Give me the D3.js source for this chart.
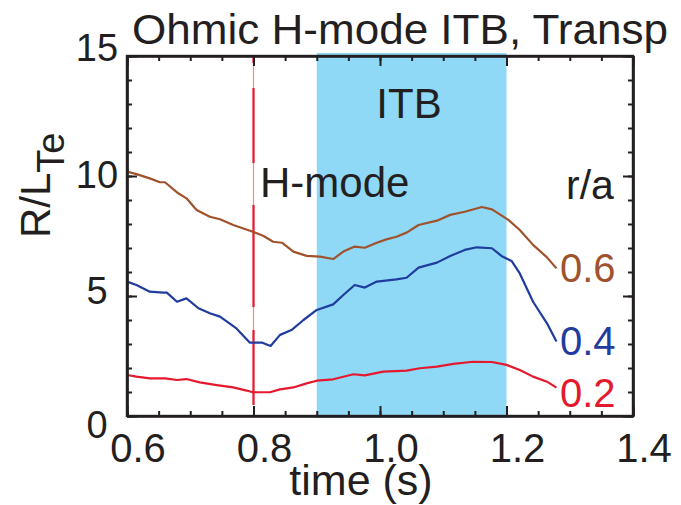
<!DOCTYPE html>
<html>
<head>
<meta charset="utf-8">
<script src="https://cdn.jsdelivr.net/npm/d3@7"></script>
<style>
body { margin: 0; background: #fff; }
text { font-family: 'Liberation Sans', Arial, sans-serif; }
</style>
</head>
<body>
<div id="chart"></div>
<script>
/*global d3: false*/

// time (s) and R/L_Te, one series per r/a
var t06 = [0.600, 0.615, 0.636, 0.652, 0.660, 0.681, 0.694, 0.710, 0.731, 0.747, 0.768, 0.799,
           0.816, 0.831, 0.845, 0.863, 0.884, 0.905, 0.926, 0.942, 0.960, 0.976, 0.995, 1.010,
           1.026, 1.042, 1.061, 1.090, 1.111, 1.134, 1.161, 1.177, 1.203, 1.221, 1.242, 1.264, 1.279];
var rlt06 = [10.18, 10.08, 9.90, 9.74, 9.74, 9.28, 9.07, 8.58, 8.30, 8.20, 7.96, 7.68,
             7.50, 7.26, 7.22, 6.85, 6.67, 6.64, 6.54, 6.85, 7.06, 7.01, 7.22, 7.36,
             7.47, 7.64, 7.96, 8.14, 8.38, 8.51, 8.71, 8.61, 8.17, 7.75, 7.13, 6.61, 6.15];

var t04 = [0.600, 0.615, 0.636, 0.657, 0.663, 0.679, 0.694, 0.713, 0.731, 0.747, 0.773, 0.794,
           0.813, 0.827, 0.842, 0.860, 0.879, 0.900, 0.926, 0.942, 0.960, 0.976, 0.995, 1.026,
           1.042, 1.061, 1.090, 1.111, 1.134, 1.153, 1.177, 1.192, 1.208, 1.221, 1.242, 1.264, 1.279];
var rlt04 = [5.60, 5.46, 5.18, 5.14, 5.14, 4.76, 4.90, 4.49, 4.28, 4.14, 3.65, 3.06,
             3.06, 2.92, 3.38, 3.58, 4.00, 4.42, 4.65, 5.04, 5.46, 5.35, 5.60, 5.69,
             5.76, 6.18, 6.39, 6.67, 6.92, 7.03, 6.99, 6.67, 6.46, 5.94, 4.76, 3.86, 3.10];

var t02 = [0.600, 0.615, 0.636, 0.660, 0.679, 0.694, 0.715, 0.742, 0.768, 0.789, 0.799, 0.826,
           0.842, 0.863, 0.884, 0.900, 0.926, 0.958, 0.976, 1.005, 1.042, 1.063, 1.090, 1.116,
           1.147, 1.177, 1.200, 1.221, 1.242, 1.264, 1.279];
var rlt02 = [1.71, 1.64, 1.57, 1.57, 1.50, 1.54, 1.40, 1.29, 1.19, 1.06, 0.99, 0.99,
             1.11, 1.19, 1.36, 1.47, 1.53, 1.74, 1.69, 1.85, 1.89, 1.99, 2.06, 2.17,
             2.26, 2.25, 2.13, 1.92, 1.64, 1.43, 1.18];

var seriesNames = ['0.6', '0.4', '0.2'];
var hModeTime = 0.8;
var itbWindow = [0.9, 1.2];
var xTickLabels = ['0.6', '0.8', '1.0', '1.2', '1.4'];
var yTickLabels = ['0', '5', '10', '15'];

(function() {
    'use strict';
    var width, height, svg, x, y, line, series, colors, i, xMajor, xMinor, yMajor, yMinor,
        left, right, top, bottom, labelY;

    width = 681;
    height = 505;
    left = 127;
    right = 633;
    top = 56;
    bottom = 416;

    svg = d3.select('#chart').append('svg')
        .attr('width', width)
        .attr('height', height);

    x = d3.scaleLinear().domain([0.6, 1.4]).range([left, right]);
    y = d3.scaleLinear().domain([0, 15]).range([bottom, top]);

    colors = ['#a0522d', '#1f3c9e', '#e5192e'];
    series = [
        d3.zip(t06, rlt06),
        d3.zip(t04, rlt04),
        d3.zip(t02, rlt02)
    ];

    // ITB shaded window
    svg.append('rect')
        .attr('x', x(itbWindow[0]))
        .attr('y', top - 3)
        .attr('width', x(itbWindow[1]) - x(itbWindow[0]))
        .attr('height', bottom - top + 5)
        .attr('fill', '#8fd8f6');

    // H-mode marker: pale thin line with heavy dashes on top
    svg.append('line')
        .attr('x1', x(hModeTime))
        .attr('x2', x(hModeTime))
        .attr('y1', top)
        .attr('y2', bottom - 11)
        .attr('stroke', '#f08a8a')
        .attr('stroke-width', 1.2);
    svg.append('line')
        .attr('x1', x(hModeTime))
        .attr('x2', x(hModeTime))
        .attr('y1', top)
        .attr('y2', bottom - 11)
        .attr('stroke', '#e5192e')
        .attr('stroke-width', 2.2)
        .attr('stroke-dasharray', '7,25,75,42,102,23,75');

    line = d3.line()
        .x(function(d) { return x(d[0]); })
        .y(function(d) { return y(d[1]); });

    for (i = 0; i < series.length; i++) {
        svg.append('path')
            .datum(series[i])
            .attr('d', line)
            .attr('fill', 'none')
            .attr('stroke', colors[i])
            .attr('stroke-width', 2.2)
            .attr('stroke-linejoin', 'round');
    }

    // Axes: inward ticks on all four sides
    xMajor = d3.range(0.6, 1.41, 0.2);
    xMinor = d3.range(0.6, 1.41, 0.05);
    yMajor = d3.range(0, 15.1, 5);
    yMinor = d3.range(0, 15.1, 1);

    function addAxis(axis, tx, ty, size, vals) {
        var g = svg.append('g')
            .attr('transform', 'translate(' + tx + ',' + ty + ')')
            .call(axis.tickValues(vals).tickSizeInner(size).tickSizeOuter(0).tickFormat(''));
        g.select('.domain').attr('stroke', '#231f20').attr('stroke-width', 2.2);
        g.selectAll('.tick line').attr('stroke', '#231f20').attr('stroke-width', 2);
        return g;
    }

    addAxis(d3.axisBottom(x), 0, bottom, -5, xMinor);
    addAxis(d3.axisBottom(x), 0, bottom, -10, xMajor);
    addAxis(d3.axisTop(x), 0, top, -5, xMinor);
    addAxis(d3.axisTop(x), 0, top, -10, xMajor);
    addAxis(d3.axisLeft(y), left, 0, -5, yMinor);
    addAxis(d3.axisLeft(y), left, 0, -10, yMajor);
    addAxis(d3.axisRight(y), right, 0, -5, yMinor);
    addAxis(d3.axisRight(y), right, 0, -10, yMajor);

    svg.append('rect')
        .attr('x', left)
        .attr('y', top)
        .attr('width', right - left)
        .attr('height', bottom - top)
        .attr('fill', 'none')
        .attr('stroke', '#231f20')
        .attr('stroke-width', 2.4);

    // Tick labels
    svg.selectAll('.xlab')
        .data(xTickLabels)
        .enter().append('text')
        .attr('x', function(d) { return x(+d) + 11; })
        .attr('y', 462)
        .attr('text-anchor', 'middle')
        .attr('font-size', 40)
        .attr('fill', '#231f20')
        .text(function(d) { return d; });

    labelY = {'0': 438, '5': 304, '10': 188, '15': 61};
    svg.selectAll('.ylab')
        .data(yTickLabels)
        .enter().append('text')
        .attr('x', 97)
        .attr('y', function(d) { return labelY[d]; })
        .attr('text-anchor', 'middle')
        .attr('font-size', 38)
        .attr('fill', '#231f20')
        .text(function(d) { return d; });

    // Titles
    svg.append('text')
        .attr('x', 132)
        .attr('y', 44)
        .attr('font-size', 42)
        .attr('textLength', 536)
        .attr('lengthAdjust', 'spacingAndGlyphs')
        .attr('fill', '#231f20')
        .text('Ohmic H-mode ITB, Transp');

    svg.append('text')
        .attr('x', 361)
        .attr('y', 495)
        .attr('text-anchor', 'middle')
        .attr('font-size', 43)
        .attr('fill', '#231f20')
        .text('time (s)');

    svg.append('text')
        .attr('transform', 'translate(50,238) rotate(-90)')
        .attr('font-size', 42)
        .attr('fill', '#231f20')
        .text('R/L')
        .append('tspan')
        .attr('dy', 14)
        .attr('font-size', 38)
        .text('Te');

    // Annotations
    svg.append('text')
        .attr('x', 409)
        .attr('y', 118)
        .attr('text-anchor', 'middle')
        .attr('font-size', 42)
        .attr('fill', '#231f20')
        .text('ITB');

    svg.append('text')
        .attr('x', 260)
        .attr('y', 197)
        .attr('font-size', 42)
        .attr('fill', '#231f20')
        .text('H-mode');

    svg.append('text')
        .attr('x', 566)
        .attr('y', 199)
        .attr('font-size', 41)
        .attr('fill', '#231f20')
        .text('r/a');

    svg.selectAll('.rlab')
        .data(seriesNames)
        .enter().append('text')
        .attr('x', 560)
        .attr('y', function(d, j) { return [282, 355, 407][j]; })
        .attr('font-size', 40)
        .attr('fill', function(d, j) { return colors[j]; })
        .text(function(d) { return d; });
}());
</script>
</body>
</html>
